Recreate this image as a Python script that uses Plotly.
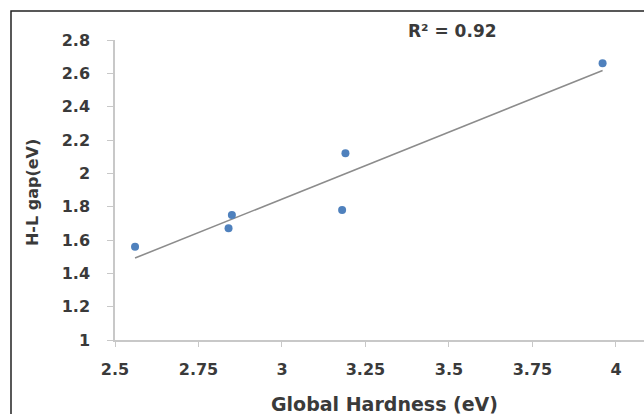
import numpy as np
import plotly.graph_objects as go

global_hardness = [2.56, 2.84, 2.85, 3.18, 3.19, 3.96]
hl_gap = [1.56, 1.67, 1.75, 1.78, 2.12, 2.66]
x_ticks = [2.5, 2.75, 3, 3.25, 3.5, 3.75, 4]
x_tick_labels = ["2.5", "2.75", "3", "3.25", "3.5", "3.75", "4"]
y_ticks = [1, 1.2, 1.4, 1.6, 1.8, 2, 2.2, 2.4, 2.6, 2.8]
y_tick_labels = ["1", "1.2", "1.4", "1.6", "1.8", "2", "2.2", "2.4", "2.6", "2.8"]
r2_label = "R² = 0.92"

xs = np.array(global_hardness)
ys = np.array(hl_gap)
slope, intercept = np.polyfit(xs, ys, 1)
trend_x = [xs.min(), xs.max()]
trend_y = [slope * v + intercept for v in trend_x]

font_family = "DejaVu Sans"
text_color = "#3a3a3a"

fig = go.Figure()
fig.add_trace(go.Scatter(x=trend_x, y=trend_y, mode="lines",
                         line=dict(color="#8c8c8c", width=1.6), hoverinfo="skip"))
fig.add_trace(go.Scatter(x=global_hardness, y=hl_gap, mode="markers",
                         marker=dict(color="#4f81bd", size=8)))

fig.update_layout(
    width=644, height=414,
    margin=dict(l=115, r=0, t=40, b=74),
    paper_bgcolor="white", plot_bgcolor="white",
    showlegend=False,
    font=dict(family=font_family, color=text_color, size=16, weight="bold"),
    xaxis=dict(range=[2.5, 4.084], tickvals=x_ticks, ticktext=x_tick_labels,
               showgrid=False, zeroline=False, showline=True, linecolor="#c8c8c8",
               linewidth=1.5, ticks="outside", ticklen=5, tickcolor="#c8c8c8",
               ticklabelstandoff=9,
               tickfont=dict(family=font_family, size=16, color=text_color, weight="bold")),
    yaxis=dict(range=[1, 2.8], tickvals=y_ticks, ticktext=y_tick_labels,
               showgrid=False, zeroline=False, showline=True, linecolor="#c8c8c8",
               linewidth=1.5, ticks="outside", ticklen=6, tickcolor="#c8c8c8",
               ticklabelstandoff=14,
               tickfont=dict(family=font_family, size=16, color=text_color, weight="bold")),
    annotations=[
        dict(text="Global Hardness (eV)", xref="paper", yref="paper", x=0.51, y=-0.213,
             xanchor="center", yanchor="middle", showarrow=False,
             font=dict(family=font_family, size=19, color=text_color, weight="bold")),
        dict(text="H-L gap(eV)", xref="paper", yref="paper", x=-0.157, y=0.493,
             xanchor="center", yanchor="middle", showarrow=False, textangle=-90,
             font=dict(family=font_family, size=16, color=text_color, weight="bold")),
        dict(text=r2_label, xref="x", yref="paper", x=3.512, y=1.03,
             xanchor="center", yanchor="middle", showarrow=False,
             font=dict(family=font_family, size=17, color=text_color, weight="bold")),
    ],
    shapes=[
        dict(type="rect", xref="paper", yref="paper", x0=-0.1966, x1=1.05,
             y0=-0.4, y1=1.0967, line=dict(color="#222222", width=1.5),
             fillcolor="rgba(0,0,0,0)", layer="below"),
    ],
)

fig.write_html("out.html", config={"displayModeBar": False},
               post_script="document.body.style.margin='0';document.body.style.overflow='hidden';")
